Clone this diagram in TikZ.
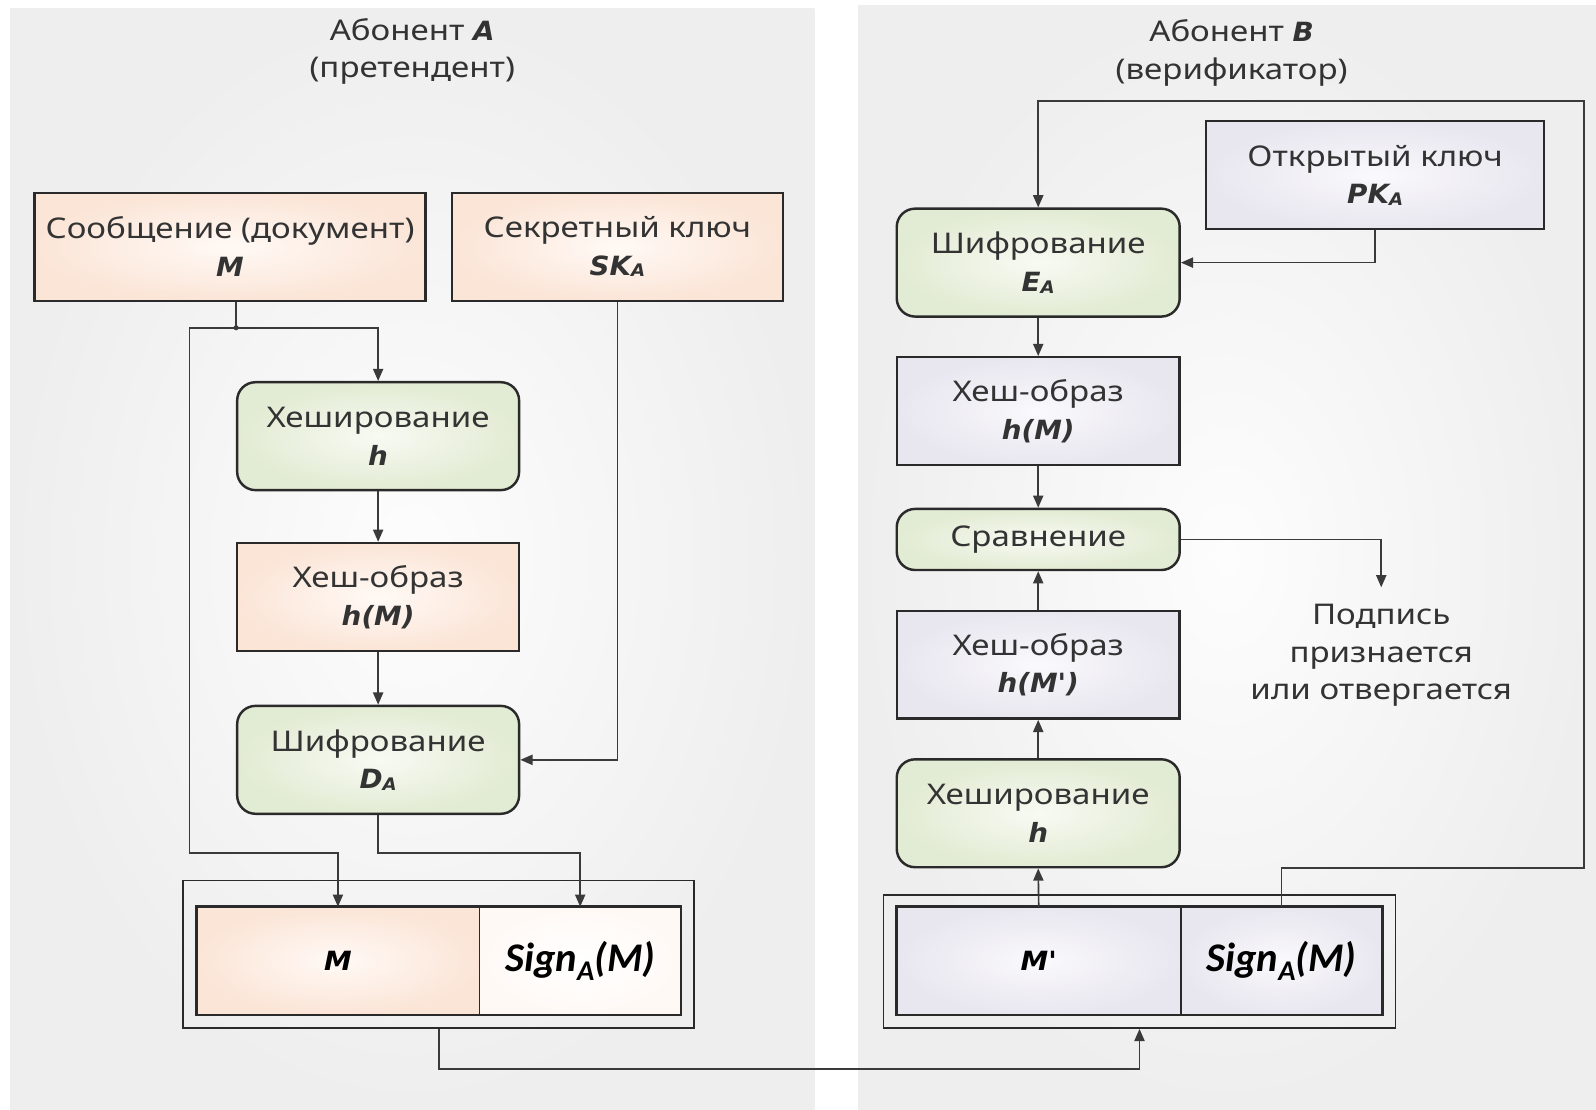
\documentclass[tikz,border=0pt]{standalone}
\usepackage{fontspec}
\setmainfont{Noto Sans}[FakeStretch=1.16]
\newfontfamily\signfont{Carlito}
\newfontfamily\symfont{DejaVu Sans}[FakeStretch=1.05]
\usetikzlibrary{arrows.meta,calc}

\definecolor{panin}{HTML}{FDFDFD}
\definecolor{panout}{HTML}{EEEEEE}
\definecolor{peachin}{HTML}{FFF9F5}
\definecolor{peachout}{HTML}{FBE5D7}
\definecolor{greenin}{HTML}{F8FAF3}
\definecolor{greenout}{HTML}{E2EBD3}
\definecolor{lavin}{HTML}{FAF9FC}
\definecolor{lavout}{HTML}{E8E6EF}
\definecolor{edge}{HTML}{2A2A2A}
\definecolor{wire}{HTML}{3A3A3A}
\definecolor{txt}{HTML}{333333}

\newcommand\boxfont{\fontsize{28}{37}\selectfont}
\newcommand\bi[1]{{\symfont\bfseries\itshape\fontsize{26}{37}\selectfont #1}}
\newcommand\subA{\raisebox{-1.5pt}{\symfont\bfseries\itshape\fontsize{17}{17}\selectfont A}}
\newcommand\signtext{{\signfont\bfseries\itshape\fontsize{40}{40}\selectfont Sign\raisebox{-8pt}{\fontsize{28}{28}\selectfont A}(M)}}

\begin{document}
\begin{tikzpicture}[x=1pt,y=-1pt,
  card/.style={draw=edge, line width=2.4pt, align=center, inner sep=0pt, font=\boxfont, text=txt},
  peach/.style={card, inner color=peachin, outer color=peachout},
  lav/.style={card, inner color=lavin, outer color=lavout},
  proc/.style={card, rounded corners=18pt, inner color=greenin, outer color=greenout},
  wirel/.style={draw=wire, line width=1.6pt},
  arr/.style={wirel, -{Triangle[length=12pt,width=10pt]}},
  frame/.style={draw=edge, line width=1.6pt, inner sep=0pt},
  cell/.style={inner sep=0pt, minimum height=106pt, align=center, font=\boxfont, text=black},
  caption/.style={font=\boxfont, text=txt, align=center, inner sep=0pt}]

\useasboundingbox (0,0) rectangle (1568,1090);
\fill[white] (0,0) rectangle (1568,1090);

% two panels
\shade[inner color=panin, outer color=panout] (10,8) rectangle (800,1090);
\shade[inner color=panin, outer color=panout] (843,5) rectangle (1568,1090);

% ---------- sender ----------
\node[caption] (titleA) at (405,50.5) {Абонент \bi{A}\\(претендент)};

\node[peach, minimum width=384pt, minimum height=106pt] (msg) at (226,242.5) {Сообщение (документ)\\\bi{M}};
\node[peach, minimum width=325pt, minimum height=106pt] (sk) at (606.5,242.5) {Секретный ключ\\\bi{SK}\subA};
\node[proc, minimum width=277pt, minimum height=106pt] (hashA) at (371.5,428.5) {Хеширование\\\bi{h}};
\node[peach, minimum width=277pt, minimum height=106pt] (imgA) at (371.5,586.5) {Хеш-образ\\\bi{h(M)}};
\node[proc, minimum width=277pt, minimum height=106pt] (encA) at (371.5,746.5) {Шифрование\\\bi{D}\subA};

\node[frame, minimum width=502pt, minimum height=145pt] (outA) at (431,937.5) {};
\node[cell, minimum width=278pt, inner color=peachin, outer color=peachout] (mA) at (332,944) {\bi{M}};
\node[cell, minimum width=198pt, inner color=white, outer color=peachin] (sA) at (570,944) {\signtext};
\draw[draw=edge, line width=2.6pt] (mA.north west) rectangle (sA.south east);
\draw[draw=edge, line width=1.4pt] (mA.north east) -- (mA.south east);

\coordinate (j1) at (232,322);
\coordinate (lbus) at (186,838);
\draw[wirel] (msg.south -| j1) -- (j1);
\fill[wire] (j1) circle (2.5pt);
\draw[arr] (j1) -| (hashA.north);
\draw[arr] (j1) -| (lbus) -| (mA.north);
\draw[arr] (hashA.south) -- (imgA.north);
\draw[arr] (imgA.south) -- (encA.north);
\draw[arr] (sk.south) |- (encA.east);
\draw[arr] (encA.south) -- (encA.south |- lbus) -| (sA.north);

% ---------- receiver ----------
\node[caption] (titleB) at (1210,52) {Абонент \bi{B}\\(верификатор)};

\node[lav, minimum width=332pt, minimum height=106pt] (pk) at (1351,172) {Открытый ключ\\\bi{PK}\subA};
\node[proc, minimum width=278pt, minimum height=106pt] (encB) at (1020,258) {Шифрование\\\bi{E}\subA};
\node[lav, minimum width=278pt, minimum height=106pt] (imgB) at (1020,404) {Хеш-образ\\\bi{h(M)}};
\node[proc, minimum width=278pt, minimum height=60pt] (cmp) at (1020,530) {Сравнение};
\node[lav, minimum width=278pt, minimum height=106pt] (imgB2) at (1020,653) {Хеш-образ\\\bi{h(M{\char"0027})}};
\node[proc, minimum width=278pt, minimum height=106pt] (hashB) at (1020,799) {Хеширование\\\bi{h}};

\node[frame, minimum width=503pt, minimum height=131pt] (outB) at (1119.5,944.5) {};
\node[cell, minimum width=279pt, inner color=lavin, outer color=lavout] (mB) at (1020.5,944) {\bi{M{\char"0027}}};
\node[cell, minimum width=198pt, inner color=lavin, outer color=lavout] (sB) at (1259,944) {\signtext};
\draw[draw=edge, line width=2.6pt] (mB.north west) rectangle (sB.south east);
\draw[draw=edge, line width=1.4pt] (mB.north east) -- (mB.south east);

\node[caption] (verdict) at (1357,644) {Подпись\\признается\\или отвергается};
\coordinate (vtop) at (1357,577);

\coordinate (lp1) at (1556,853);
\coordinate (lp2) at (1020,99);
\draw[arr] (sB.north) |- (lp1) |- (lp2) -- (encB.north);
\draw[arr] (pk.south) |- (encB.east);
\draw[arr] (encB.south) -- (imgB.north);
\draw[arr] (imgB.south) -- (cmp.north);
\draw[arr] (imgB2.north) -- (cmp.south);
\draw[arr] (hashB.north) -- (imgB2.south);
\draw[arr] (mB.north) -- (hashB.south);
\draw[arr] (cmp.east) -| (vtop);

% transfer of the signed message
\coordinate (xfer) at (800,1050);
\draw[arr] (outA.south) |- (xfer) -| (outB.south);

\end{tikzpicture}
\end{document}
